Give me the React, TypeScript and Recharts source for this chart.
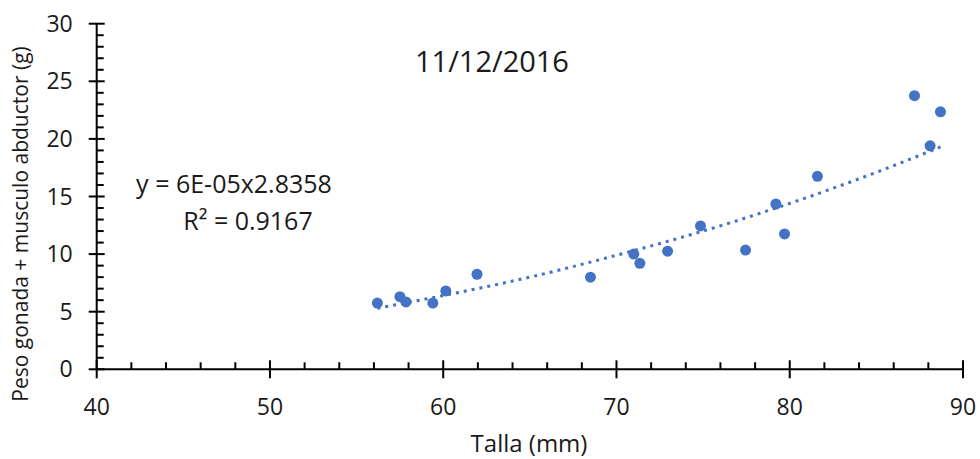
import { ComposedChart, Scatter, Line, XAxis, YAxis, Customized } from 'recharts';

const tallaMm = [56.2, 57.5, 57.85, 59.4, 60.15, 61.95, 68.5, 71.0, 71.35, 72.95, 74.85, 77.45, 79.2, 79.7, 81.6, 87.2, 88.1, 88.7];
const pesoG = [5.75, 6.3, 5.85, 5.75, 6.8, 8.25, 8.0, 10.0, 9.2, 10.25, 12.45, 10.35, 14.35, 11.75, 16.75, 23.75, 19.4, 22.35];

// dotted potential trendline
const trendX = [56.2, 60, 65, 70, 75, 80, 85, 88.7];
const trendY = [5.3, 6.4, 8.0, 9.9, 12.0, 14.4, 17.1, 19.3];

const xTicks = [40, 42, 44, 46, 48, 50, 52, 54, 56, 58, 60, 62, 64, 66, 68, 70, 72, 74, 76, 78, 80, 82, 84, 86, 88, 90];
const yTicks = [0, 1, 2, 3, 4, 5, 6, 7, 8, 9, 10, 11, 12, 13, 14, 15, 16, 17, 18, 19, 20, 21, 22, 23, 24, 25, 26, 27, 28, 29, 30];

const titleText = '11/12/2016';
const equationText = 'y = 6E-05x2.8358';
const r2Text = 'R² = 0.9167';
const xTitle = 'Talla (mm)';
const yTitle = 'Peso gonada + musculo abductor (g)';

const points = tallaMm.map((x, i) => ({ x, y: pesoG[i] }));
const trend = trendX.map((x, i) => ({ x, t: trendY[i] }));

const FONT = '"Open Sans", "Noto Sans", sans-serif';
const INK = '#1a1a1a';
const BLUE = '#4472C4';

function XTick({ x, y, payload }: any) {
  const v = payload.value;
  if (v % 10 === 0) {
    return (
      <g>
        <line x1={x} x2={x} y1={y - 9} y2={y + 9} stroke="#000" strokeWidth={2} />
        <text x={x} y={y + 46} textAnchor="middle" fontSize={23} fontFamily={FONT} fill={INK}>{v}</text>
      </g>
    );
  }
  return <line x1={x} x2={x} y1={y} y2={y - 7} stroke="#000" strokeWidth={2} />;
}

function YTick({ x, y, payload }: any) {
  const v = payload.value;
  if (v % 5 === 0) {
    return (
      <g>
        <line x1={x - 8} x2={x + 8} y1={y} y2={y} stroke="#000" strokeWidth={2} />
        <text x={x - 24} y={y + 8} textAnchor="end" fontSize={23} fontFamily={FONT} fill={INK}>{v}</text>
      </g>
    );
  }
  return <line x1={x} x2={x + 7} y1={y} y2={y} stroke="#000" strokeWidth={2} />;
}

function Annotations() {
  return (
    <g fontFamily={FONT} fill={INK}>
      <text x={492} y={72} textAnchor="middle" fontSize={29}>{titleText}</text>
      <text x={234} y={193} textAnchor="middle" fontSize={25}>{equationText}</text>
      <text x={248} y={230} textAnchor="middle" fontSize={25}>{r2Text}</text>
      <text x={529} y={452} textAnchor="middle" fontSize={24}>{xTitle}</text>
      <text x={28} y={224} textAnchor="middle" fontSize={21} transform="rotate(-90, 28, 224)">{yTitle}</text>
    </g>
  );
}

export default function App() {
  return (
    <div style={{ position: 'absolute', left: 0, top: 0, background: '#fff' }}>
      <ComposedChart width={980} height={459} margin={{ top: 23.7, right: 17, bottom: 29.7, left: 36.7 }}>
        <XAxis
          dataKey="x"
          type="number"
          domain={[40, 90]}
          ticks={xTicks}
          interval={0}
          height={60}
          tickSize={0}
          tickMargin={0}
          tickLine={false}
          axisLine={{ stroke: '#000', strokeWidth: 2 }}
          tick={(p: any) => <XTick {...p} />}
          allowDataOverflow
        />
        <YAxis
          type="number"
          domain={[0, 30]}
          ticks={yTicks}
          interval={0}
          width={60}
          tickSize={0}
          tickMargin={0}
          tickLine={false}
          axisLine={{ stroke: '#000', strokeWidth: 2 }}
          tick={(p: any) => <YTick {...p} />}
        />
        <Line
          data={trend}
          dataKey="t"
          type="monotone"
          stroke={BLUE}
          strokeWidth={3}
          strokeDasharray="3 5"
          dot={false}
          activeDot={false}
          isAnimationActive={false}
        />
        <Scatter
          data={points}
          dataKey="y"
          fill={BLUE}
          shape={(p: any) => <circle cx={p.cx} cy={p.cy} r={5.5} fill={BLUE} />}
          isAnimationActive={false}
        />
        <Customized component={Annotations} />
      </ComposedChart>
    </div>
  );
}
